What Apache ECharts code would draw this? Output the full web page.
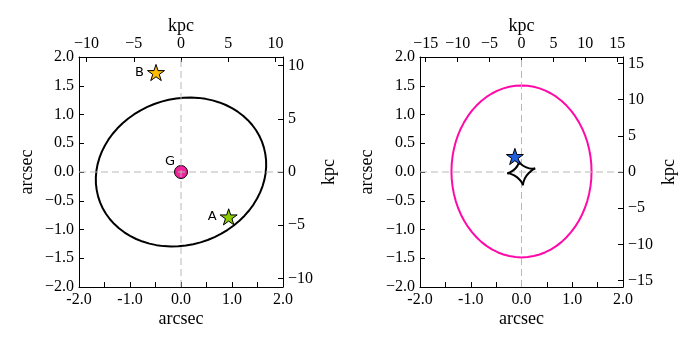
<!DOCTYPE html>
<html>
<head>
<meta charset="utf-8">
<script src="https://cdn.jsdelivr.net/npm/echarts@6.0.0/dist/echarts.min.js"></script>
<style>
html, body { margin: 0; padding: 0; background: #fff; }
#chart { width: 697px; height: 348px; }
</style>
</head>
<body>
<div id="chart"></div>
<script>
// left panel: critical curve, lens galaxy G and the two images A, B (arcsec)
var critLeft = [[1.653,0.315],[1.626,0.424],[1.587,0.529],[1.535,0.630],[1.472,0.726],[1.397,0.817],
  [1.312,0.901],[1.217,0.979],[1.112,1.049],[1.000,1.111],[0.879,1.165],[0.752,1.210],
  [0.619,1.246],[0.481,1.272],[0.340,1.289],[0.196,1.295],[0.051,1.292],[-0.095,1.279],
  [-0.240,1.256],[-0.383,1.224],[-0.523,1.183],[-0.659,1.132],[-0.791,1.073],[-0.916,1.005],
  [-1.034,0.930],[-1.145,0.848],[-1.246,0.760],[-1.339,0.665],[-1.421,0.566],[-1.492,0.462],
  [-1.552,0.355],[-1.600,0.245],[-1.636,0.133],[-1.659,0.021],[-1.670,-0.092],[-1.668,-0.205],
  [-1.653,-0.315],[-1.626,-0.424],[-1.587,-0.529],[-1.535,-0.630],[-1.472,-0.726],[-1.397,-0.817],
  [-1.312,-0.901],[-1.217,-0.979],[-1.112,-1.049],[-1.000,-1.111],[-0.879,-1.165],[-0.752,-1.210],
  [-0.619,-1.246],[-0.481,-1.272],[-0.340,-1.289],[-0.196,-1.295],[-0.051,-1.292],[0.095,-1.279],
  [0.240,-1.256],[0.383,-1.224],[0.523,-1.183],[0.659,-1.132],[0.791,-1.073],[0.916,-1.005],
  [1.034,-0.930],[1.145,-0.848],[1.246,-0.760],[1.339,-0.665],[1.421,-0.566],[1.492,-0.462],
  [1.552,-0.355],[1.600,-0.245],[1.636,-0.133],[1.659,-0.021],[1.670,0.092],[1.668,0.205],[1.653,0.315]];
var galaxyG = [0, 0];
var imageA = [0.935, -0.78];
var imageB = [-0.49, 1.73];

// right panel: critical curve (pink), caustic (black, cusps every 4th point) and source
var critRight = [[1.380,0.010],[1.375,0.140],[1.359,0.270],[1.333,0.397],[1.297,0.521],[1.251,0.642],
  [1.195,0.758],[1.130,0.867],[1.057,0.971],[0.976,1.067],[0.887,1.155],[0.792,1.235],
  [0.690,1.305],[0.583,1.365],[0.472,1.415],[0.357,1.454],[0.240,1.482],[0.120,1.499],
  [0.000,1.505],[-0.120,1.499],[-0.240,1.482],[-0.357,1.454],[-0.472,1.415],[-0.583,1.365],
  [-0.690,1.305],[-0.792,1.235],[-0.887,1.155],[-0.976,1.067],[-1.057,0.971],[-1.130,0.867],
  [-1.195,0.758],[-1.251,0.642],[-1.297,0.521],[-1.333,0.397],[-1.359,0.270],[-1.375,0.140],
  [-1.380,0.010],[-1.375,-0.120],[-1.359,-0.250],[-1.333,-0.377],[-1.297,-0.501],[-1.251,-0.622],
  [-1.195,-0.738],[-1.130,-0.847],[-1.057,-0.951],[-0.976,-1.047],[-0.887,-1.135],[-0.792,-1.215],
  [-0.690,-1.285],[-0.583,-1.345],[-0.472,-1.395],[-0.357,-1.434],[-0.240,-1.462],[-0.120,-1.479],
  [0.000,-1.485],[0.120,-1.479],[0.240,-1.462],[0.357,-1.434],[0.472,-1.395],[0.583,-1.345],
  [0.690,-1.285],[0.792,-1.215],[0.887,-1.135],[0.976,-1.047],[1.057,-0.951],[1.130,-0.847],
  [1.195,-0.738],[1.251,-0.622],[1.297,-0.501],[1.333,-0.377],[1.359,-0.250],[1.375,-0.120],[1.380,0.010]];
var caustic = [[-0.05,0.19],[-0.026,0.153],[0.075,0.089],[0.209,0.058],
  [0.27,0.06],[0.213,0.034],[0.103,-0.060],[0.037,-0.178],
  [0.03,-0.23],[0.006,-0.183],[-0.091,-0.089],[-0.221,-0.029],
  [-0.28,-0.02],[-0.225,-0.005],[-0.120,0.060],[-0.057,0.149],[-0.05,0.19]];
var sourcePos = [-0.13, 0.27];

// axes
var arcsecRange = [-2, 2];
var kpcPerArcsec = [5.4, 7.95];
var kpcTicks = [[-10, -5, 0, 5, 10], [-15, -10, -5, 0, 5, 10, 15]];
var zeroLines = [[[0, -2], [0, 2]], [[-2, 0], [2, 0]]];

var STAR = 'path://M50,0L61.2,34.5L97.6,34.5L68.2,55.9L79.4,90.5L50,69.1L20.6,90.5L31.8,55.9L2.4,34.5L38.8,34.5Z';
var serif = 'Liberation Serif';

var chart = echarts.init(document.getElementById('chart'));

var grids = [
  { left: 79, top: 57, width: 204, height: 230 },
  { left: 420, top: 57, width: 203, height: 230 }
];
var nameGaps = [
  { bottom: 23, left: 43, top: 22, right: 37 },
  { bottom: 23, left: 44, top: 22, right: 37 }
];

function minusFmt(v, dec) {
  var s = dec ? Math.abs(v).toFixed(dec) : String(Math.abs(v));
  return (v < 0 ? '\u2212' : '') + s;
}

var baseAxis = {
  nameLocation: 'middle',
  nameMoveOverlap: false,
  nameTextStyle: { fontFamily: serif, fontSize: 18, color: '#000' },
  axisLine: { show: true, onZero: false, lineStyle: { color: '#000', width: 1 } },
  axisTick: { show: true, inside: true, length: 5, lineStyle: { color: '#000' } },
  axisLabel: { fontFamily: serif, fontSize: 16, color: '#000', margin: 5 },
  splitLine: { show: false }
};

function axis(extra) {
  return echarts.util.merge(echarts.util.clone(baseAxis), extra, true);
}

var xAxes = [], yAxes = [], series = [];

grids.forEach(function (g, p) {
  var k = kpcPerArcsec[p];
  var ng = nameGaps[p];
  xAxes.push(axis({
    gridIndex: p, type: 'value', position: 'bottom', name: 'arcsec', nameGap: ng.bottom,
    min: arcsecRange[0], max: arcsecRange[1], interval: 0.5,
    axisLabel: { formatter: function (v) {
      if (Math.abs(v - Math.round(v)) > 1e-9) return '';
      return (v < 0 ? '-' : '') + Math.abs(v).toFixed(1);
    } }
  }));
  xAxes.push(axis({
    gridIndex: p, type: 'value', position: 'top', name: 'kpc', nameGap: ng.top,
    min: arcsecRange[0] * k, max: arcsecRange[1] * k,
    axisTick: { customValues: kpcTicks[p] },
    axisLabel: { customValues: kpcTicks[p], formatter: function (v) { return minusFmt(v); } }
  }));
  yAxes.push(axis({
    gridIndex: p, type: 'value', position: 'left', name: 'arcsec', nameGap: ng.left,
    min: arcsecRange[0], max: arcsecRange[1], interval: 0.5,
    axisLabel: { formatter: function (v) { return minusFmt(v, 1); } }
  }));
  yAxes.push(axis({
    gridIndex: p, type: 'value', position: 'right', name: 'kpc', nameGap: ng.right,
    min: arcsecRange[0] * k, max: arcsecRange[1] * k,
    axisTick: { customValues: kpcTicks[p] },
    axisLabel: { customValues: kpcTicks[p], formatter: function (v) { return minusFmt(v); } }
  }));

  zeroLines.forEach(function (ln) {
    series.push({
      type: 'line', xAxisIndex: 2 * p, yAxisIndex: 2 * p, data: ln, z: 4,
      showSymbol: false, silent: true,
      lineStyle: { color: '#b8b8b8', width: 1, type: [7, 4] }
    });
  });
});

function curve(data, p, color, z, smooth) {
  return {
    type: 'line', xAxisIndex: 2 * p, yAxisIndex: 2 * p, data: data, z: z || 3,
    smooth: !!smooth, showSymbol: false, silent: true,
    lineStyle: { color: color, width: 2 }
  };
}

function marker(pos, p, name, symbol, size, color, labelOpt) {
  return {
    type: 'scatter', xAxisIndex: 2 * p, yAxisIndex: 2 * p, z: 6,
    data: [{ value: pos, name: name }],
    symbol: symbol, symbolSize: size, symbolKeepAspect: true,
    itemStyle: { color: color, borderColor: '#000', borderWidth: 1, opacity: 1 },
    label: echarts.util.extend({
      show: !!name, formatter: '{b}', position: 'left', distance: 3,
      fontFamily: 'DejaVu Sans', fontSize: 13, color: '#000'
    }, labelOpt || {})
  };
}

// left panel
series.push(curve(critLeft, 0, '#000'));
var gSeries = marker(galaxyG, 0, 'G', 'circle', 13, '#f0249a', { distance: -1, offset: [0, -10] });
gSeries.z = 3;
series.push(gSeries);
series.push(marker(imageA, 0, 'A', STAR, 17, '#8ccc00'));
series.push(marker(imageB, 0, 'B', STAR, 17, '#ffbb00'));

// right panel
series.push(curve(critRight, 1, '#ff0aa8'));
for (var i = 0; i < caustic.length - 1; i += 4) {
  series.push(curve(caustic.slice(i, i + 5), 1, '#000', 5, true));
}
series.push(marker(sourcePos, 1, '', STAR, 17, '#2060e0'));

chart.setOption({
  backgroundColor: '#fff',
  animation: false,
  grid: grids.map(function (g) {
    return echarts.util.extend({ containLabel: false, outerBoundsMode: 'none' }, g);
  }),
  xAxis: xAxes,
  yAxis: yAxes,
  series: series
});
</script>
</body>
</html>
